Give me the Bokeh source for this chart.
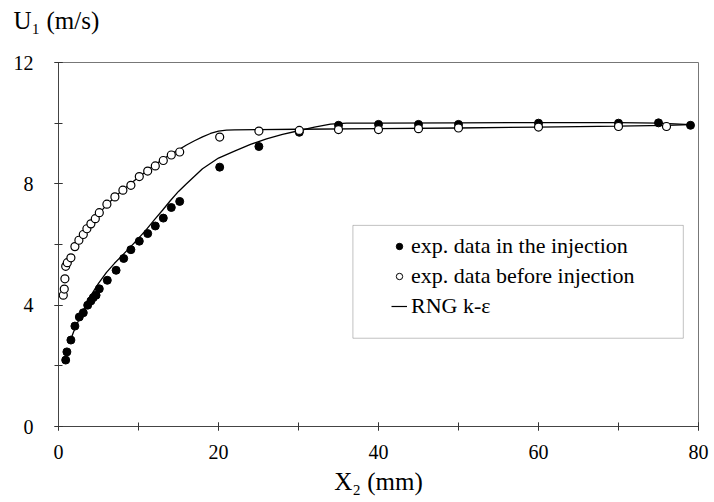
from bokeh.plotting import figure
from bokeh.models import (Range1d, FixedTicker, Legend, LegendItem, BoxAnnotation, Title,
                          ColumnDataSource)
from bokeh.embed import file_html
from bokeh.resources import INLINE

# ---- data ----
x_inj = [0.9, 1.05, 1.55, 2.05, 2.6, 3.1, 3.65, 4.05, 4.35, 4.7, 5.1, 6.1, 7.2, 8.15, 9.05,
         10.1, 11.15, 12.1, 13.1, 14.1, 15.15, 20.15, 25.05, 30.1, 35, 40, 45, 50, 60, 70, 75, 79]
u_inj = [2.19, 2.46, 2.85, 3.31, 3.61, 3.75, 4.0, 4.14, 4.25, 4.33, 4.54, 4.82, 5.15, 5.54, 5.83,
         6.11, 6.36, 6.61, 6.87, 7.22, 7.42, 8.55, 9.23, 9.7, 9.93, 9.96, 9.96, 9.96, 10.0, 10.0, 10.01, 9.93]

x_bef = [0.6, 0.72, 0.8, 0.9, 1.1, 1.55, 2.05, 2.55, 3.1, 3.55, 4.05, 4.6, 5.1, 6.05, 7.05, 8.05,
         9.05, 10.1, 11.15, 12.1, 13.1, 14.1, 15.15, 20.15, 25.05, 30.1, 35, 40, 45, 50, 60, 70, 76]
u_bef = [4.33, 4.53, 4.87, 5.28, 5.40, 5.56, 5.93, 6.14, 6.33, 6.52, 6.68, 6.85, 7.05, 7.33, 7.57, 7.79,
         7.95, 8.24, 8.42, 8.59, 8.77, 8.95, 9.05, 9.54, 9.74, 9.76, 9.79, 9.79, 9.82, 9.84, 9.87, 9.89, 9.89]

x_rng_inj = [1.5, 2, 3, 4, 5, 6, 7, 8, 9, 10, 11, 12, 13, 14, 15, 16, 18, 20, 22, 24, 26, 28, 30,
             32, 34, 36, 40, 50, 60, 70, 75, 79]
u_rng_inj = [2.85, 3.2, 3.78, 4.3, 4.72, 5.08, 5.38, 5.65, 5.92, 6.2, 6.5, 6.82, 7.13, 7.45, 7.75,
             8.0, 8.5, 8.85, 9.08, 9.3, 9.48, 9.63, 9.75, 9.87, 9.97, 10.0, 10.0, 10.01, 10.02, 10.02, 10.0, 9.95]

x_rng_bef = [1.6, 2, 3, 4, 5, 6, 7, 8, 9, 10, 11, 12, 13, 14, 15, 16, 17, 18, 19, 20, 21, 22, 25,
             30, 40, 50, 60, 70, 76, 79]
u_rng_bef = [5.85, 6.0, 6.35, 6.68, 7.0, 7.3, 7.55, 7.8, 8.0, 8.22, 8.42, 8.62, 8.8, 8.97, 9.12,
             9.28, 9.42, 9.55, 9.66, 9.74, 9.77, 9.78, 9.79, 9.8, 9.82, 9.84, 9.87, 9.9, 9.93, 9.95]

x_ticks = [0, 20, 40, 60, 80]
x_minor_ticks = [0, 10, 20, 30, 40, 50, 60, 70, 80]
y_ticks = [0, 4, 8, 12]
y_minor_ticks = [0, 2, 4, 6, 8, 10, 12]

labels = ["exp. data in the injection", "exp. data before injection", "RNG k-\u03b5"]
y_title = "U\u2081 (m/s)"
x_title = "X\u2082 (mm)"

FONT = "Liberation Serif"

p = figure(width=714, height=502, output_backend="svg", toolbar_location=None,
           x_range=Range1d(0, 80), y_range=Range1d(0, 12), title=None,
           min_border_left=58, min_border_right=16, min_border_top=62, min_border_bottom=76)
p.grid.visible = False
p.background_fill_color = "white"
p.border_fill_color = "white"
p.outline_line_color = "#777777"
p.outline_line_width = 1

p.xaxis.ticker = FixedTicker(ticks=x_ticks, minor_ticks=x_minor_ticks)
p.yaxis.ticker = FixedTicker(ticks=y_ticks, minor_ticks=y_minor_ticks)
for ax in (p.xaxis, p.yaxis):
    ax.axis_line_color = "#444444"
    ax.major_tick_line_color = "#333333"
    ax.minor_tick_line_color = "#333333"
    ax.major_tick_in = 4
    ax.major_tick_out = 4
    ax.minor_tick_in = 4
    ax.minor_tick_out = 4
    ax.major_label_text_font = FONT
    ax.major_label_text_font_size = "20px"
    ax.major_label_text_color = "black"
p.xaxis.major_label_standoff = 14
p.yaxis.major_label_standoff = 21

p.xaxis.axis_label = x_title
p.xaxis.axis_label_text_font = FONT
p.xaxis.axis_label_text_font_size = "25px"
p.xaxis.axis_label_text_font_style = "normal"
p.xaxis.axis_label_text_color = "black"
p.xaxis.axis_label_standoff = 6

# spacer panel next to the frame, then the horizontal y-axis title above it
p.add_layout(Title(text=" ", text_font_size="20px", standoff=4), "above")
p.add_layout(Title(text=y_title, align="left", offset=-45, text_font=FONT,
                   text_font_size="25px", text_font_style="normal", text_color="black",
                   standoff=2), "above")

src_inj = ColumnDataSource(dict(x=x_inj, y=u_inj))
src_bef = ColumnDataSource(dict(x=x_bef, y=u_bef))
src_rng_inj = ColumnDataSource(dict(x=x_rng_inj, y=u_rng_inj))
src_rng_bef = ColumnDataSource(dict(x=x_rng_bef, y=u_rng_bef))

p.line("x", "y", source=src_rng_inj, line_color="black", line_width=1.3)
p.line("x", "y", source=src_rng_bef, line_color="black", line_width=1.3)
p.scatter("x", "y", source=src_inj, size=8, marker="circle", fill_color="black", line_color="black")
p.scatter("x", "y", source=src_bef, size=8, marker="circle", fill_color="white",
          line_color="black", line_width=1.2)

# legend proxies (NaN point so nothing is drawn in the plot)
nan = float("nan")
proxy = ColumnDataSource(dict(x=[nan], y=[nan]))
lg1 = p.scatter("x", "y", source=proxy, size=5, marker="circle", fill_color="black", line_color="black")
lg2 = p.scatter("x", "y", source=proxy, size=5, marker="circle", fill_color="white",
                line_color="black", line_width=1)
lg3 = p.line("x", "y", source=proxy, line_color="black", line_width=1.2)

legend = Legend(items=[LegendItem(label=labels[0], renderers=[lg1]),
                       LegendItem(label=labels[1], renderers=[lg2]),
                       LegendItem(label=labels[2], renderers=[lg3])],
                location=(321, 95), border_line_alpha=0, background_fill_alpha=0,
                label_text_font=FONT, label_text_font_size="22px", label_text_color="black",
                glyph_width=16, glyph_height=26, label_height=26, spacing=4, padding=12,
                label_standoff=4, margin=0)
p.add_layout(legend, "center")

box = BoxAnnotation(left=36.8, right=78.1, top=6.63, bottom=2.91, fill_alpha=0,
                    line_color="#333333", line_width=1)
p.add_layout(box)

open("out.html", "w").write(file_html(p, INLINE))
